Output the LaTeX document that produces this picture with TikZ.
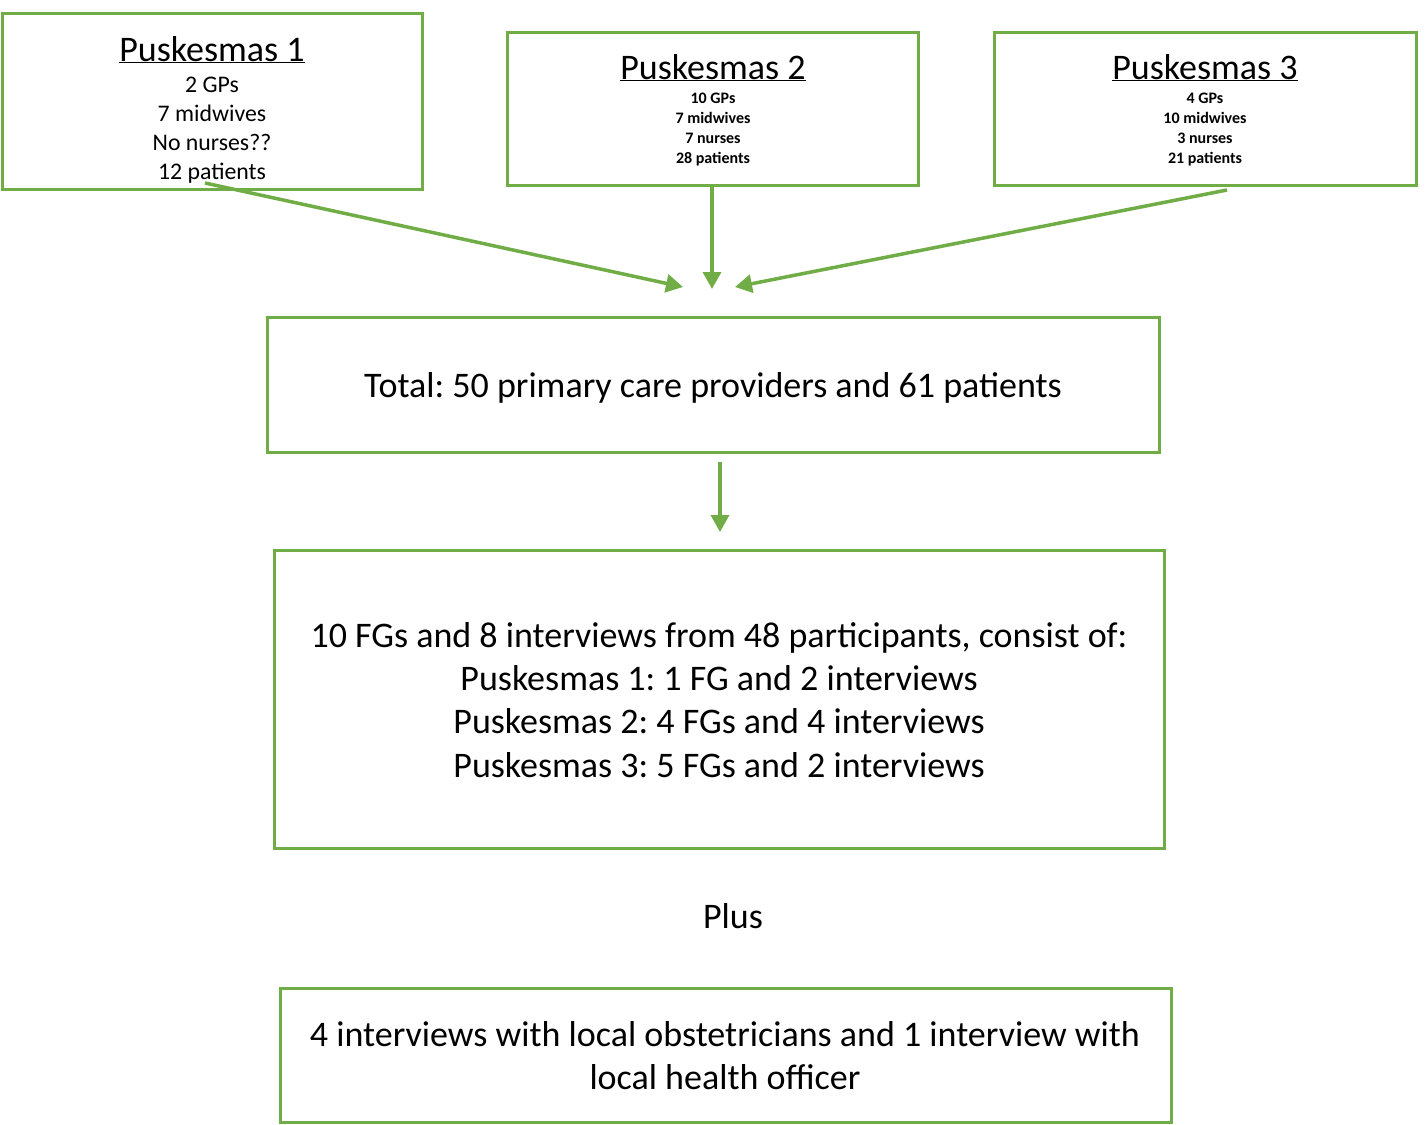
\documentclass[tikz,border=0pt]{standalone}
\usepackage{fontspec}
\setmainfont{Carlito}
\usetikzlibrary{arrows.meta}
\definecolor{grn}{HTML}{70AD47}
\frenchspacing
\tikzset{
  box/.style={draw=grn, line width=3pt, minimum width=#1, inner sep=0pt},
  arr/.style={draw=grn, line width=3.5pt, -{Triangle[length=17pt,width=18pt]}},
  t/.style={anchor=base, inner sep=0pt, font=#1},
}
\newcommand{\bigtxt}{\fontsize{36}{42}\selectfont}
\newcommand{\ttl}{\fontsize{36}{42}\selectfont}
\newcommand{\midtxt}{\fontsize{23.8}{28}\selectfont}
\newcommand{\smtxt}{\fontsize{16}{19}\selectfont\bfseries}
\begin{document}
\begin{tikzpicture}[x=1pt,y=-1pt]
\useasboundingbox (0,0) rectangle (1425,1125);
% boxes
\node[box=420pt, minimum height=176pt] (b1) at (212,101) {};
\node[box=411pt, minimum height=153pt] (b2) at (712.5,108.5) {};
\node[box=422pt, minimum height=153pt] (b3) at (1205,108.5) {};
\node[box=892pt, minimum height=135pt] (tot) at (713,384.5) {};
\node[box=890pt, minimum height=298pt] (fg) at (719,699) {};
\node[box=891pt, minimum height=134pt] (ext) at (725.5,1055) {};
% box 1 text
\node[t=\ttl] (t1) at (212,61) {\underline{Puskesmas 1}};
\node[t=\midtxt] (t1a) at (212,92) {2 GPs};
\node[t=\midtxt] (t1b) at (212,121) {7 midwives};
\node[t=\midtxt] (t1c) at (212,150) {No nurses??};
\node[t=\midtxt] (t1d) at (212,179) {12 patients};
% box 2 text
\node[t=\ttl] (t2) at (713,79) {\underline{Puskesmas 2}};
\node[t=\smtxt] (t2a) at (713,103) {10 GPs};
\node[t=\smtxt] (t2b) at (713,123) {7 midwives};
\node[t=\smtxt] (t2c) at (713,143) {7 nurses};
\node[t=\smtxt] (t2d) at (713,163) {28 patients};
% box 3 text
\node[t=\ttl] (t3) at (1205,79) {\underline{Puskesmas 3}};
\node[t=\smtxt] (t3a) at (1205,103) {4 GPs};
\node[t=\smtxt] (t3b) at (1205,123) {10 midwives};
\node[t=\smtxt] (t3c) at (1205,143) {3 nurses};
\node[t=\smtxt] (t3d) at (1205,163) {21 patients};
% total
\node[t=\bigtxt] (tt) at (713,397) {Total: 50 primary care providers and 61 patients};
% FG box
\node[t=\bigtxt] (f1) at (719,647) {10 FGs and 8 interviews from 48 participants, consist of:};
\node[t=\bigtxt] (f2) at (719,690) {Puskesmas 1: 1 FG and 2 interviews};
\node[t=\bigtxt] (f3) at (719,733) {Puskesmas 2: 4 FGs and 4 interviews};
\node[t=\bigtxt] (f4) at (719,777) {Puskesmas 3: 5 FGs and 2 interviews};
% plus
\node[t=\bigtxt] (plus) at (733,928) {Plus};
% ext box
\node[t=\bigtxt] (e1) at (725,1046) {4 interviews with local obstetricians and 1 interview with};
\node[t=\bigtxt] (e2) at (725,1089) {local health officer};
% arrows
\coordinate (s1) at (205,183);
\coordinate (e1p) at (683,287);
\coordinate (s2) at (712,187);
\coordinate (e2p) at (712,289);
\coordinate (s3) at (1227,190);
\coordinate (e3p) at (735,287);
\coordinate (s4) at (720,462);
\coordinate (e4p) at (720,532);
\draw[arr] (s1) -- (e1p);
\draw[arr] (s2) -- (e2p);
\draw[arr] (s3) -- (e3p);
\draw[arr] (s4) -- (e4p);
\end{tikzpicture}
\end{document}
